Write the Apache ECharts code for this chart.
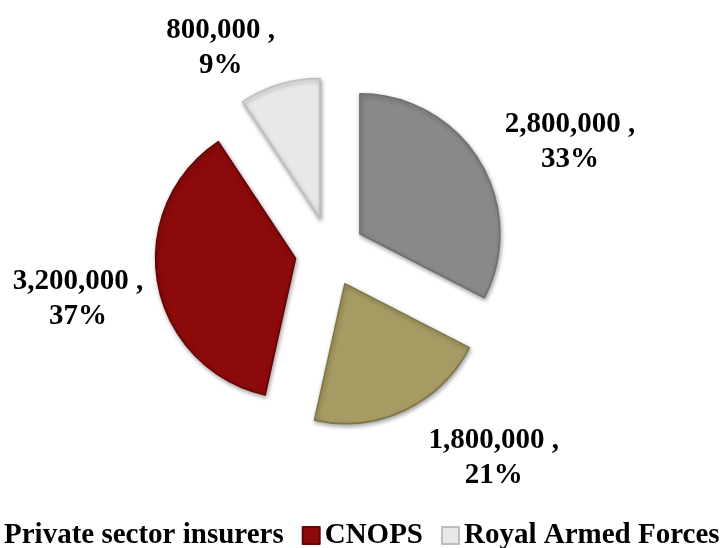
<!DOCTYPE html>
<html><head><meta charset="utf-8">
<script src="https://cdn.jsdelivr.net/npm/echarts@6/dist/echarts.min.js"></script>
<style>html,body{margin:0;padding:0;background:#fff}#c{width:726px;height:548px}</style>
</head><body><div id="c"></div>
<script>
// Data
const categories = ['CNSS', 'Private sector insurers', 'CNOPS', 'Royal Armed Forces'];
const values = [2800000, 1800000, 3200000, 800000];
const legendNames = ['Private sector insurers', 'CNOPS', 'Royal Armed Forces'];

// Styles / layout
const colors = ['#898989', '#a69b62', '#8c0a0a', '#e8e8e8'];
const borders = ['#6e6e6e', '#7d7446', '#650404', '#bdbdbd'];
const lineLen = [37, 53, 5, 38];
const lineLen2 = [-16, -8, 0, -27];
const padTop = [0, 0, 28, 0];
const FONT = "'Liberation Serif', 'Times New Roman', serif";

const chart = echarts.init(document.getElementById('c'));
chart.setOption({
  animation: false,
  backgroundColor: '#fff',
  legend: {
    data: legendNames.map((n, i) => i === 0 ? { name: n, itemStyle: { opacity: 0 } } : n),
    left: -24,
    top: 516,
    orient: 'horizontal',
    icon: 'rect',
    itemWidth: 17,
    itemHeight: 17,
    itemGap: 18,
    selectedMode: false,
    textStyle: { fontFamily: FONT, fontWeight: 'bold', fontSize: 29, color: '#000' }
  },
  series: [{
    type: 'pie',
    center: [330, 252],
    radius: 140,
    startAngle: 90,
    clockwise: true,
    selectedMode: 'multiple',
    selectedOffset: 35,
    avoidLabelOverlap: false,
    percentPrecision: 0,
    emphasis: { disabled: true },
    label: {
      show: true,
      position: 'outside',
      formatter: p => '{v|' + p.value.toLocaleString('en-US') + ' ,\n' + p.percent + '%}',
      rich: {
        v: { fontFamily: FONT, fontWeight: 'bold', fontSize: 29, lineHeight: 35, width: 140, align: 'center', color: '#000' }
      }
    },
    labelLine: { show: false },
    itemStyle: { borderWidth: 1.5, shadowBlur: 4, shadowColor: 'rgba(0,0,0,0.35)', shadowOffsetX: 1, shadowOffsetY: 2 },
    data: categories.map((n, i) => ({
      name: n,
      value: values[i],
      selected: true,
      itemStyle: { color: colors[i], borderColor: borders[i] },
      labelLine: { show: false, length: lineLen[i], length2: lineLen2[i] },
      label: { padding: [padTop[i], 0, 0, 0] }
    }))
  }]
});
</script></body></html>
